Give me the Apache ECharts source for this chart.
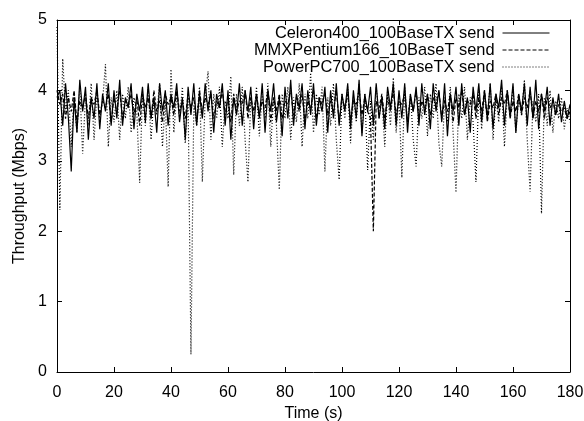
<!DOCTYPE html>
<html>
<head>
<meta charset="utf-8">
<script src="https://cdn.jsdelivr.net/npm/echarts@6/dist/echarts.min.js"></script>
<style>
  html, body { margin: 0; padding: 0; background: #fff; }
  #chart { width: 584px; height: 421px; }
</style>
</head>
<body>
<div id="chart"></div>
<script>
// Per-second send throughput (Mbps), t = 0 .. 180 s
const seriesNames = [
  'Celeron400_100BaseTX send',
  'MMXPentium166_10BaseT send',
  'PowerPC700_100BaseTX send'
];

const celeron = [
  3.9, 4.0, 3.5, 4.1, 3.6, 2.85, 3.9, 3.4, 4.15, 3.7,
  4.05, 3.3, 3.9, 3.6, 4.1, 3.45, 3.95, 3.7, 4.1, 3.5,
  4.0, 3.6, 4.15, 3.5, 3.9, 3.75, 4.1, 3.45, 3.95, 3.7,
  4.05, 3.55, 4.1, 3.6, 3.9, 3.4, 4.1, 3.7, 4.0, 3.5,
  3.95, 3.75, 4.1, 3.55, 3.9, 3.3, 4.05, 3.65, 4.1, 3.5,
  3.95, 3.6, 4.1, 3.7, 4.0, 3.4, 3.95, 3.75, 4.1, 3.5,
  4.0, 3.3, 3.9, 3.65, 4.1, 3.5, 4.0, 3.7, 4.05, 3.45,
  3.95, 3.6, 4.1, 3.4, 4.0, 3.7, 4.1, 3.55, 3.9, 3.35,
  4.05, 3.6, 4.15, 3.5, 3.95, 3.75, 4.1, 3.45, 4.0, 3.65,
  4.1, 3.5, 3.9, 3.7, 4.05, 3.4, 4.0, 3.6, 4.1, 3.5,
  3.95, 3.7, 4.1, 3.45, 4.0, 3.6, 4.15, 3.35, 3.95, 3.7,
  4.05, 3.5, 4.1, 3.6, 3.9, 3.45, 4.05, 3.75, 4.1, 3.5,
  4.0, 3.6, 4.1, 3.4, 3.95, 3.7, 4.05, 3.5, 4.1, 3.65,
  3.95, 3.45, 4.1, 3.7, 4.0, 3.55, 4.1, 3.35, 3.95, 3.7,
  4.05, 3.5, 4.1, 3.65, 3.9, 3.4, 4.05, 3.7, 4.1, 3.55,
  4.0, 3.6, 4.1, 3.45, 3.95, 3.75, 4.15, 3.5, 4.0, 3.65,
  4.1, 3.4, 3.95, 3.7, 4.1, 3.5, 4.05, 3.6, 4.15, 3.45,
  3.95, 3.7, 4.05, 3.5, 3.9, 3.65, 3.95, 3.55, 3.85, 3.6, 3.8
];

const mmxPentium = [
  4.0, 3.8, 3.95, 3.6, 3.9, 3.7, 4.0, 3.55, 3.85, 3.75,
  3.95, 3.6, 3.9, 3.8, 4.0, 3.65, 3.85, 3.75, 3.95, 3.55,
  3.9, 3.7, 4.0, 3.6, 3.85, 3.8, 3.95, 3.65, 3.9, 3.5,
  3.95, 3.75, 3.9, 3.6, 4.0, 3.7, 3.85, 3.55, 3.95, 3.8,
  3.9, 3.65, 4.0, 3.7, 3.85, 3.6, 3.95, 3.75, 3.9, 3.55,
  4.0, 3.7, 3.9, 3.8, 3.95, 3.6, 3.85, 3.75, 4.0, 3.65,
  3.9, 3.55, 3.95, 3.7, 3.85, 3.8, 4.0, 3.6, 3.9, 3.7,
  3.95, 3.65, 3.85, 3.75, 4.0, 3.55, 3.9, 3.7, 3.95, 3.6,
  3.85, 3.8, 4.0, 3.65, 3.9, 3.7, 3.95, 3.55, 3.85, 3.75,
  4.0, 3.6, 3.9, 3.8, 3.95, 3.65, 3.85, 3.7, 4.0, 3.55,
  3.9, 3.75, 3.95, 3.6, 3.85, 3.8, 4.0, 3.65, 3.9, 3.7,
  3.6, 2.0, 3.85, 3.75, 3.95, 3.6, 3.9, 3.7, 4.0, 3.65,
  3.85, 3.8, 3.95, 3.55, 3.9, 3.7, 4.0, 3.6, 3.85, 3.75,
  3.95, 3.65, 3.9, 3.8, 4.0, 3.6, 3.85, 3.7, 3.95, 3.55,
  3.9, 3.75, 4.0, 3.65, 3.85, 3.8, 3.95, 3.6, 3.9, 3.7,
  4.0, 3.55, 3.85, 3.75, 3.95, 3.65, 3.9, 3.8, 4.0, 3.6,
  3.85, 3.7, 3.95, 3.65, 3.9, 3.75, 4.0, 3.6, 3.85, 3.7,
  3.95, 3.6, 3.9, 3.75, 3.85, 3.65, 3.8, 3.7, 3.75, 3.6, 3.7
];

const powerPC = [
  4.9, 2.3, 4.45, 3.7, 4.0, 3.2, 3.95, 3.4, 4.05, 3.1,
  3.9, 3.5, 4.1, 3.3, 3.95, 3.6, 3.85, 4.37, 3.2, 3.9,
  3.55, 4.0, 3.3, 3.95, 3.6, 4.05, 3.4, 3.9, 3.7, 2.69,
  3.95, 3.5, 4.05, 3.3, 3.9, 3.65, 4.1, 3.2, 3.85, 2.63,
  4.3, 3.4, 3.95, 3.6, 4.05, 3.25, 3.9, 0.25, 3.8, 3.5,
  4.05, 2.7, 3.9, 4.27, 3.3, 3.95, 3.6, 4.05, 3.2, 3.85,
  3.6, 4.2, 2.8, 3.95, 3.5, 4.05, 3.3, 2.7, 3.9, 3.6,
  4.05, 3.35, 3.95, 3.6, 4.1, 3.2, 3.9, 3.5, 2.59, 3.95,
  3.6, 4.05, 3.3, 3.9, 3.55, 4.1, 3.2, 3.95, 3.6, 4.25,
  3.4, 3.95, 3.65, 4.05, 2.85, 3.9, 3.5, 4.1, 3.3, 2.73,
  3.95, 3.6, 4.05, 3.25, 3.9, 3.55, 4.1, 3.4, 3.95, 2.87,
  3.85, 3.3, 4.05, 3.6, 3.9, 3.2, 4.0, 3.5, 4.18, 3.4,
  3.9, 2.76, 4.05, 3.55, 3.95, 3.3, 2.92, 3.9, 3.6, 4.05,
  3.35, 3.95, 3.6, 4.1, 3.25, 2.92, 3.9, 3.55, 4.05, 3.4,
  2.55, 3.95, 3.6, 4.05, 3.3, 3.9, 3.55, 2.7, 4.0, 3.45,
  3.95, 3.6, 4.1, 3.3, 3.9, 3.55, 4.05, 3.2, 3.95, 3.6,
  4.05, 3.4, 3.9, 3.65, 4.15, 3.3, 2.56, 3.85, 3.55, 3.95,
  2.25, 3.9, 3.5, 4.0, 3.4, 3.85, 3.6, 3.9, 3.45, 3.75, 3.55
];

const xTicks = [0, 20, 40, 60, 80, 100, 120, 140, 160, 180];
const yTicks = [0, 1, 2, 3, 4, 5];

const seriesValues = [celeron, mmxPentium, powerPC];
const dashStyles = ['solid', [4, 2], [1, 2]];

const font = 'Liberation Sans, Arial, Helvetica, sans-serif';
const ink = '#000';

function pairs(values) {
  return values.map((v, i) => [i, v]);
}

const frameAxisBase = {
  type: 'value',
  axisLine: { show: true, onZero: false, lineStyle: { color: ink, width: 1 } },
  axisTick: { show: true, inside: true, length: 5, lineStyle: { color: ink } },
  splitLine: { show: false }
};

const chart = echarts.init(document.getElementById('chart'), null, { renderer: 'canvas' });

chart.setOption({
  backgroundColor: '#fff',
  animation: false,
  textStyle: { fontFamily: font, color: ink },
  grid: {
    left: 57, right: 14, top: 20, bottom: 49,
    containLabel: false,
    outerBoundsMode: 'none'
  },
  legend: {
    data: seriesNames,
    orient: 'vertical',
    align: 'right',
    right: 34,
    top: 25,
    padding: 0,
    itemWidth: 47,
    itemHeight: 8,
    itemGap: 1,
    itemStyle: { opacity: 0 },
    lineStyle: { width: 1 },
    textStyle: { fontFamily: font, fontSize: 16.4, color: ink, padding: [0, 3, 0, 0] }
  },
  xAxis: [
    Object.assign({}, frameAxisBase, {
      position: 'bottom',
      min: xTicks[0], max: xTicks[xTicks.length - 1], interval: xTicks[1] - xTicks[0],
      name: 'Time (s)', nameLocation: 'middle', nameGap: 32,
      nameTextStyle: { fontFamily: font, fontSize: 16, color: ink },
      axisLabel: { show: true, margin: 13, fontFamily: font, fontSize: 16, color: ink }
    }),
    Object.assign({}, frameAxisBase, {
      position: 'top',
      min: xTicks[0], max: xTicks[xTicks.length - 1], interval: xTicks[1] - xTicks[0],
      axisLabel: { show: false }
    })
  ],
  yAxis: [
    Object.assign({}, frameAxisBase, {
      position: 'left',
      min: yTicks[0], max: yTicks[yTicks.length - 1], interval: yTicks[1] - yTicks[0],
      name: 'Throughput (Mbps)', nameLocation: 'middle', nameGap: 26,
      nameTextStyle: { fontFamily: font, fontSize: 16, color: ink },
      axisLabel: { show: true, margin: 10, fontFamily: font, fontSize: 16, color: ink }
    }),
    Object.assign({}, frameAxisBase, {
      position: 'right',
      min: yTicks[0], max: yTicks[yTicks.length - 1], interval: yTicks[1] - yTicks[0],
      axisLabel: { show: false }
    })
  ],
  series: seriesValues.map((vals, k) => ({
    name: seriesNames[k],
    type: 'line',
    xAxisIndex: 0,
    yAxisIndex: 0,
    data: pairs(vals),
    symbol: 'none',
    clip: true,
    lineStyle: { color: ink, width: 1.2, type: dashStyles[k] },
    itemStyle: { color: ink },
    emphasis: { disabled: true }
  }))
});
</script>
</body>
</html>
